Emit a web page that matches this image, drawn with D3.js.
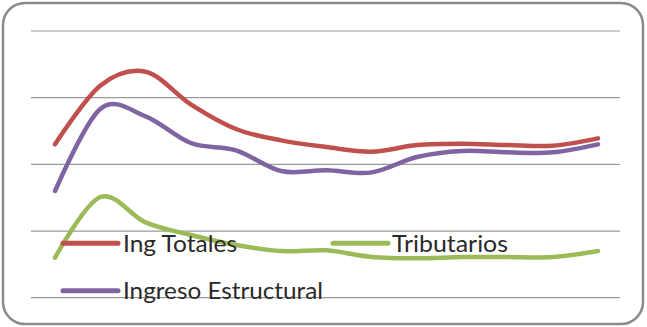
<!DOCTYPE html>
<html>
<head>
<meta charset="utf-8">
<script src="https://cdn.jsdelivr.net/npm/d3@7"></script>
<style>
  html, body { margin: 0; padding: 0; background: #fff; }
  svg { display: block; }
</style>
</head>
<body>
<svg id="chart" width="647" height="327"></svg>
<script>
// Periods along the horizontal axis
const periods = ["1", "2", "3", "4", "5", "6", "7", "8", "9", "10", "11", "12", "13"];

// Series values
const ingTotales = [23.0, 31.8, 33.9, 29.0, 25.3, 23.6, 22.6, 21.9, 22.9, 23.1, 22.9, 22.8, 23.9];
const tributarios = [6.0, 15.1, 11.3, 9.4, 7.9, 7.0, 7.1, 6.1, 5.9, 6.1, 6.1, 6.1, 7.0];
const ingresoEstructural = [16.0, 28.3, 27.2, 23.2, 22.1, 19.0, 19.1, 18.8, 21.1, 22.0, 21.8, 21.8, 23.0];

// Value axis ticks (drawn as gridlines only)
const yTicks = [0, 10, 20, 30, 40];

const seriesNames = ["Ing Totales", "Tributarios", "Ingreso Estructural"];
const seriesColors = ["#C0504D", "#9BBB59", "#8064A2"];
const seriesValues = [ingTotales, tributarios, ingresoEstructural];

const svg = d3.select("#chart");

// Rounded outer frame
svg.append("rect")
  .attr("x", 3).attr("y", 3)
  .attr("width", 640).attr("height", 321)
  .attr("rx", 22).attr("ry", 22)
  .attr("fill", "#fff")
  .attr("stroke", "#8a8a8a")
  .attr("stroke-width", 2.5);

const plotLeft = 31, plotRight = 620, plotTop = 31, plotBottom = 297.7;

const x = d3.scalePoint().domain(periods).range([55, 598]);
const y = d3.scaleLinear().domain([0, 40]).range([plotBottom, plotTop]);

// Horizontal gridlines
svg.append("g")
  .selectAll("line")
  .data(yTicks)
  .join("line")
  .attr("x1", plotLeft).attr("x2", plotRight)
  .attr("y1", d => y(d)).attr("y2", d => y(d))
  .attr("stroke", "#9a9a9a")
  .attr("stroke-width", 1.2);

// Smoothed series lines
const line = d3.line()
  .x((d, i) => x(periods[i]))
  .y(d => y(d))
  .curve(d3.curveCardinal.tension(0));

svg.append("g")
  .selectAll("path")
  .data(seriesValues)
  .join("path")
  .attr("d", d => line(d))
  .attr("fill", "none")
  .attr("stroke", (d, i) => seriesColors[i])
  .attr("stroke-width", 4.5)
  .attr("stroke-linecap", "round")
  .attr("stroke-linejoin", "round");

// Legend
const legendItems = [
  { sx: 63, sy: 243.3, tx: 123, ty: 251.5, w: 114 },
  { sx: 333, sy: 243.3, tx: 392, ty: 251.5, w: 116 },
  { sx: 63, sy: 290.7, tx: 123, ty: 298.5, w: 200 }
];

const legend = svg.append("g");
legendItems.forEach((p, i) => {
  legend.append("line")
    .attr("x1", p.sx).attr("x2", p.sx + 55)
    .attr("y1", p.sy).attr("y2", p.sy)
    .attr("stroke", seriesColors[i])
    .attr("stroke-width", 5)
    .attr("stroke-linecap", "round");
  legend.append("text")
    .attr("x", p.tx).attr("y", p.ty)
    .attr("font-family", "Lato, 'Open Sans', sans-serif")
    .attr("font-size", 23)
    .attr("fill", "#2a2a2a")
    .attr("textLength", p.w)
    .attr("lengthAdjust", "spacingAndGlyphs")
    .text(seriesNames[i]);
});
</script>
</body>
</html>
